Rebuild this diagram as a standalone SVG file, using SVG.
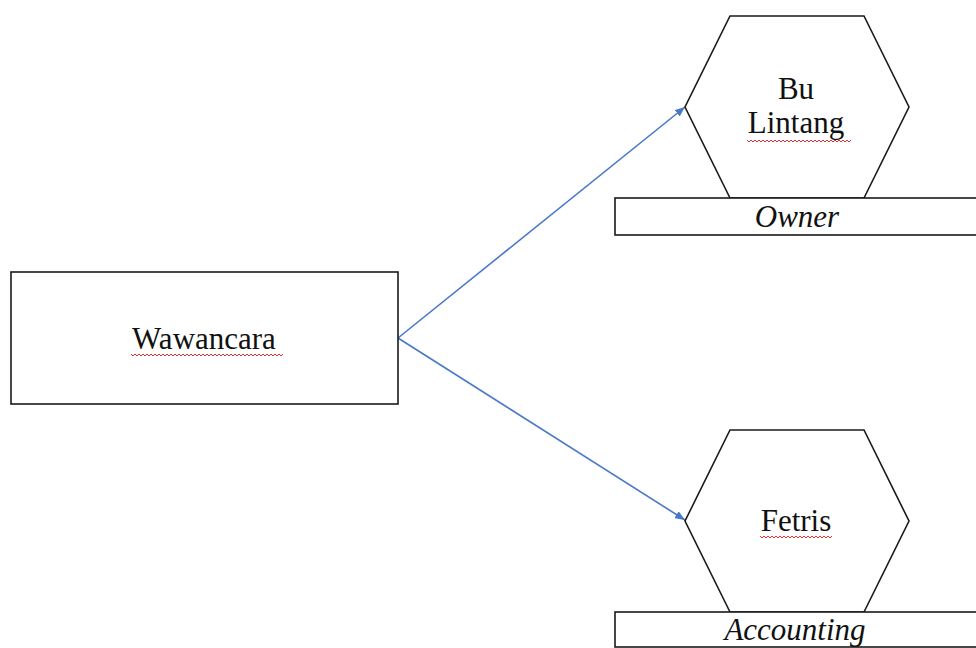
<svg xmlns="http://www.w3.org/2000/svg" width="976" height="648" viewBox="0 0 976 648">
<style>
.shape{fill:#ffffff;stroke:#1a1a1a;stroke-width:1.6}
.t{font-family:"Liberation Serif","Times New Roman",serif;font-size:31px;fill:#111111;text-anchor:middle}
.i{font-style:italic}
.conn{stroke:#4a78c8;stroke-width:1.6;fill:none;marker-end:url(#ah)}
.sq{fill:none;stroke:#e03030;stroke-width:1}
</style>
<defs>
<marker id="ah" viewBox="0 0 10 8" refX="10" refY="4" markerWidth="10" markerHeight="8" orient="auto" markerUnits="userSpaceOnUse">
<path d="M0,0 L10,4 L0,8 Z" fill="#4a78c8"/>
</marker>
</defs>
<rect width="976" height="648" fill="#ffffff"/>
<g id="connectors">
<line class="conn" x1="398" y1="338" x2="685" y2="107"/>
<line class="conn" x1="398" y1="338" x2="685" y2="520"/>
</g>
<g id="wawancara">
<rect class="shape" x="11" y="272" width="387" height="132"/>
<text class="t" x="204" y="349">Wawancara</text>
<path class="sq" d="M131,354 l2,2 l2,-2 l2,2 l2,-2 l2,2 l2,-2 l2,2 l2,-2 l2,2 l2,-2 l2,2 l2,-2 l2,2 l2,-2 l2,2 l2,-2 l2,2 l2,-2 l2,2 l2,-2 l2,2 l2,-2 l2,2 l2,-2 l2,2 l2,-2 l2,2 l2,-2 l2,2 l2,-2 l2,2 l2,-2 l2,2 l2,-2 l2,2 l2,-2 l2,2 l2,-2 l2,2 l2,-2 l2,2 l2,-2 l2,2 l2,-2 l2,2 l2,-2 l2,2 l2,-2 l2,2 l2,-2 l2,2 l2,-2 l2,2 l2,-2 l2,2 l2,-2 l2,2 l2,-2 l2,2 l2,-2 l2,2 l2,-2 l2,2 l2,-2 l2,2 l2,-2 l2,2 l2,-2 l2,2 l2,-2 l2,2 l2,-2 l2,2 l2,-2 l2,2 l2,-2"/>
</g>
<g id="bu-lintang">
<polygon class="shape" points="730,16 864,16 909,107 864,198 730,198 685,107"/>
<text class="t" x="796" y="99">Bu</text>
<text class="t" x="796" y="133">Lintang</text>
<path class="sq" d="M747,140 l2,2 l2,-2 l2,2 l2,-2 l2,2 l2,-2 l2,2 l2,-2 l2,2 l2,-2 l2,2 l2,-2 l2,2 l2,-2 l2,2 l2,-2 l2,2 l2,-2 l2,2 l2,-2 l2,2 l2,-2 l2,2 l2,-2 l2,2 l2,-2 l2,2 l2,-2 l2,2 l2,-2 l2,2 l2,-2 l2,2 l2,-2 l2,2 l2,-2 l2,2 l2,-2 l2,2 l2,-2 l2,2 l2,-2 l2,2 l2,-2 l2,2 l2,-2 l2,2 l2,-2 l2,2 l2,-2 l2,2 l2,-2"/>
</g>
<g id="owner">
<rect class="shape" x="615" y="198" width="370" height="37"/>
<text class="t i" x="797" y="227">Owner</text>
</g>
<g id="fetris">
<polygon class="shape" points="730,430 864,430 909,521 864,612 730,612 685,521"/>
<text class="t" x="796" y="531">Fetris</text>
<path class="sq" d="M760,536 l2,2 l2,-2 l2,2 l2,-2 l2,2 l2,-2 l2,2 l2,-2 l2,2 l2,-2 l2,2 l2,-2 l2,2 l2,-2 l2,2 l2,-2 l2,2 l2,-2 l2,2 l2,-2 l2,2 l2,-2 l2,2 l2,-2 l2,2 l2,-2 l2,2 l2,-2 l2,2 l2,-2 l2,2 l2,-2 l2,2 l2,-2 l2,2 l2,-2"/>
</g>
<g id="accounting">
<rect class="shape" x="615" y="612" width="370" height="35"/>
<text class="t i" x="795" y="640">Accounting</text>
</g>
</svg>
